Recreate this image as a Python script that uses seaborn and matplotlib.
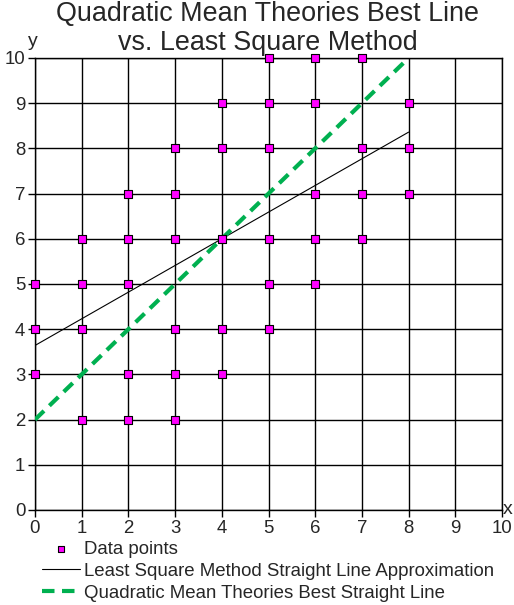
import numpy as np
import pandas as pd
import matplotlib.pyplot as plt
import seaborn as sns

# data points
pts_x = [0, 0, 0,
         1, 1, 1, 1,
         2, 2, 2, 2, 2,
         3, 3, 3, 3, 3, 3,
         4, 4, 4, 4, 4,
         5, 5, 5, 5, 5, 5,
         6, 6, 6, 6, 6,
         7, 7, 7, 7,
         8, 8, 8]
pts_y = [3, 4, 5,
         2, 4, 5, 6,
         2, 3, 5, 6, 7,
         2, 3, 4, 6, 7, 8,
         3, 4, 6, 8, 9,
         4, 5, 6, 8, 9, 10,
         5, 6, 7, 9, 10,
         6, 7, 8, 10,
         7, 8, 9]

# least square line (endpoints)
ls_x = [0, 8]
ls_y = [3.64, 8.36]

# quadratic mean best line (endpoints)
qm_x = [0, 8]
qm_y = [2, 10]

ticks = list(range(0, 11))

sns.set_style("white")
plt.rcParams['font.family'] = ['Liberation Sans', 'DejaVu Sans']

fig = plt.figure(figsize=(5.14, 6.05), dpi=100)
ax = fig.add_axes([35/514, 1 - 510/605, 467/514, 452/605])

pts = pd.DataFrame({'x': pts_x, 'y': pts_y})
sns.scatterplot(data=pts, x='x', y='y', ax=ax, marker='s', s=32, color='#FF00FF',
                edgecolor='black', linewidth=0.8, zorder=5, label='Data points',
                clip_on=False)
sns.lineplot(x=ls_x, y=ls_y, ax=ax, color='black', linewidth=0.8, zorder=4,
             label='Least Square Method Straight Line Approximation')
sns.lineplot(x=qm_x, y=qm_y, ax=ax, color='#00B050', linewidth=3, zorder=4,
             linestyle='--', label='Quadratic Mean Theories Best Straight Line')
ax.lines[-1].set_dashes((3, 1.8))

ax.set_xlim(0, 10)
ax.set_ylim(0, 10)
ax.set_xticks(ticks)
ax.set_yticks(ticks)
ax.grid(True, color='black', linewidth=1)
ax.set_axisbelow(True)
for s in ax.spines.values():
    s.set_color('black')
    s.set_linewidth(1)
ax.tick_params(axis='both', which='major', direction='out', length=5, width=1,
               color='black', labelsize=13.4, pad=2, bottom=True, left=True)
ax.set_xlabel('')
ax.set_ylabel('')

fig.text(33/514, 1 - 42/605, 'y', fontsize=14, ha='center', va='center')
fig.text(508/514, 1 - 509/605, 'x', fontsize=14, ha='center', va='center')
fig.suptitle('Quadratic Mean Theories Best Line\nvs. Least Square Method',
             x=268/514, y=1 - 1/605, fontsize=19.4, va='top', linespacing=1.17)

ax.legend(loc='upper left', bbox_to_anchor=(42/514, 1 - 541/605),
          bbox_transform=fig.transFigure, frameon=False, fontsize=13.4,
          handlelength=2.05, handletextpad=0.2, labelspacing=0.26,
          borderaxespad=0, borderpad=0, markerscale=0.8)

fig.savefig('out.png', dpi=100)
